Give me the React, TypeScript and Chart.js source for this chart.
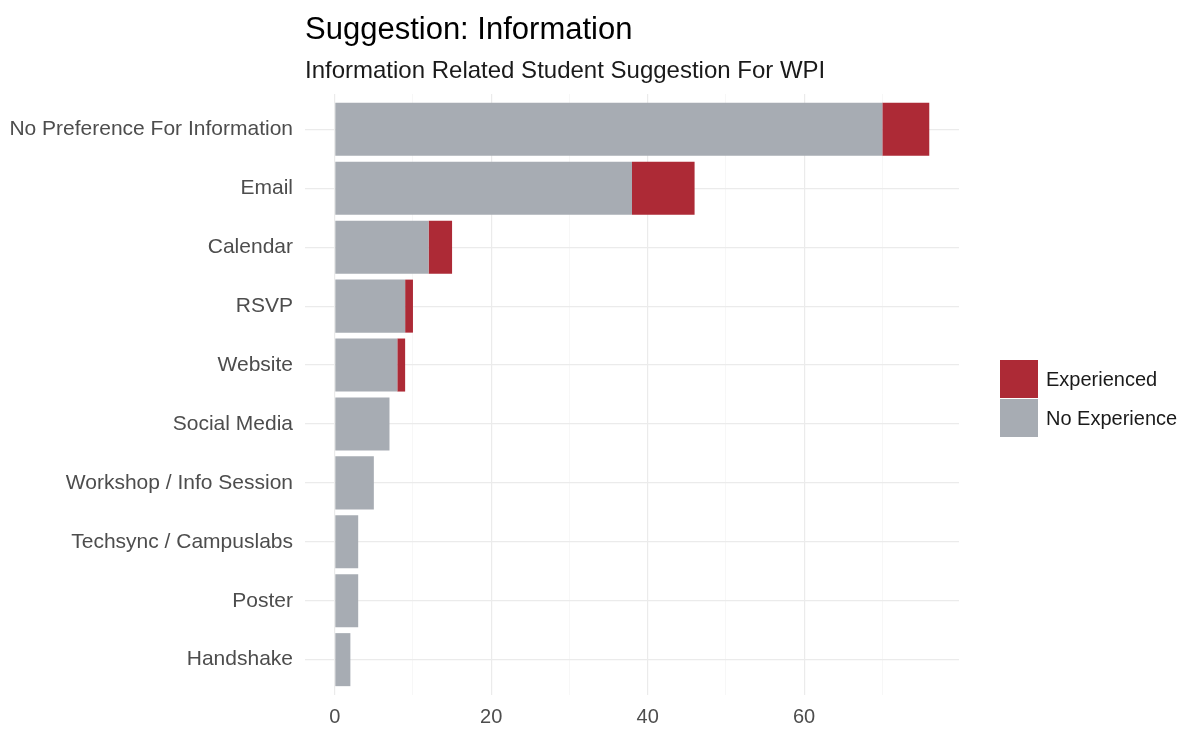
import React, { useEffect, useRef } from "react";
import { Chart, registerables } from "chart.js";

Chart.register(...registerables);

const categories: string[] = [
  "No Preference For Information",
  "Email",
  "Calendar",
  "RSVP",
  "Website",
  "Social Media",
  "Workshop / Info Session",
  "Techsync / Campuslabs",
  "Poster",
  "Handshake",
];
const noExperience: number[] = [70, 38, 12, 9, 8, 7, 5, 3, 3, 2];
const experienced: number[] = [6, 8, 3, 1, 1, 0, 0, 0, 0, 0];
const xTickLabels: number[] = [0, 20, 40, 60];

const titleText = "Suggestion: Information";
const subtitleText = "Information Related Student Suggestion For WPI";
const legendLabels: string[] = ["Experienced", "No Experience"];

const RED = "#AD2A36";
const GRAY = "#A7ACB3";
const FONT = "'Liberation Sans', Arial, sans-serif";

const decorPlugin = {
  id: "decor",
  afterDraw(chart: any) {
    const { ctx, chartArea } = chart;
    ctx.save();
    ctx.textBaseline = "alphabetic";
    ctx.textAlign = "left";
    ctx.fillStyle = "#000000";
    ctx.font = `31px ${FONT}`;
    ctx.fillText(titleText, chartArea.left, 39);
    ctx.fillStyle = "#1a1a1a";
    ctx.font = `24px ${FONT}`;
    ctx.fillText(subtitleText, chartArea.left, 78);

    // legend
    const kx = 1000;
    const ky = 360;
    const ks = 38;
    const colors = [RED, GRAY];
    ctx.font = `20px ${FONT}`;
    ctx.textBaseline = "middle";
    legendLabels.forEach((lab, i) => {
      const y = ky + i * (ks + 1);
      ctx.fillStyle = colors[i];
      ctx.fillRect(kx, y, ks, ks);
      ctx.fillStyle = "#1a1a1a";
      ctx.fillText(lab, kx + ks + 8, y + ks / 2 + 1);
    });
    ctx.restore();
  },
};

export default function App() {
  const ref = useRef<HTMLCanvasElement | null>(null);
  useEffect(() => {
    if (!ref.current) return;
    const chart = new Chart(ref.current, {
      type: "bar",
      data: {
        datasets: [
          {
            label: legendLabels[1],
            data: categories.map((_, i) => ({ x: noExperience[i], y: i })),
            backgroundColor: GRAY,
            borderWidth: 0,
            barPercentage: 0.9,
            categoryPercentage: 1,
          },
          {
            label: legendLabels[0],
            data: categories.map((_, i) => ({ x: experienced[i], y: i })),
            backgroundColor: RED,
            borderWidth: 0,
            barPercentage: 0.9,
            categoryPercentage: 1,
          },
        ],
      },
      options: {
        indexAxis: "y",
        animation: false,
        responsive: true,
        maintainAspectRatio: false,
        layout: { padding: { left: 0, right: 230, top: 94, bottom: 0 } },
        plugins: {
          legend: { display: false },
          title: { display: false },
          tooltip: { enabled: false },
        },
        scales: {
          x: {
            type: "linear",
            stacked: true,
            min: -3.8,
            max: 79.8,
            offset: false,
            border: { display: false },
            afterFit: (s: any) => {
              s.height = 34;
            },
            afterBuildTicks: (s: any) => {
              s.ticks = s.ticks.filter((t: any) => t.value >= 0 && t.value <= 70);
            },
            ticks: {
              stepSize: 10,
              includeBounds: false,
              autoSkip: false,
              maxRotation: 0,
              padding: 10,
              color: "#4D4D4D",
              font: { family: FONT, size: 20 },
              callback: (v: any) => (xTickLabels.includes(Number(v)) ? String(v) : ""),
            },
            grid: {
              offset: false,
              drawTicks: false,
              color: (c: any) => (c.tick && c.tick.value % 20 === 0 ? "#EBEBEB" : "#F3F3F3"),
              lineWidth: (c: any) => (c.tick && c.tick.value % 20 === 0 ? 1.2 : 0.7),
            },
          },
          y: {
            type: "linear",
            stacked: true,
            reverse: true,
            min: -0.6,
            max: 9.6,
            offset: false,
            border: { display: false },
            afterFit: (s: any) => {
              s.width = 305;
            },
            afterBuildTicks: (s: any) => {
              s.ticks = s.ticks.filter((t: any) => t.value >= 0 && t.value <= categories.length - 1);
            },
            ticks: {
              stepSize: 1,
              includeBounds: false,
              autoSkip: false,
              padding: 12,
              color: "#4D4D4D",
              font: { family: FONT, size: 21 },
              callback: (v: any) => categories[Number(v)] ?? "",
            },
            grid: {
              offset: false,
              drawTicks: false,
              color: "#EBEBEB",
              lineWidth: 1.2,
            },
          },
        },
      },
      plugins: [decorPlugin],
    } as any);
    return () => chart.destroy();
  }, []);

  return (
    <div style={{ position: "fixed", left: 0, top: 0, width: 1189, height: 729, background: "#ffffff" }}>
      <canvas ref={ref} />
    </div>
  );
}
